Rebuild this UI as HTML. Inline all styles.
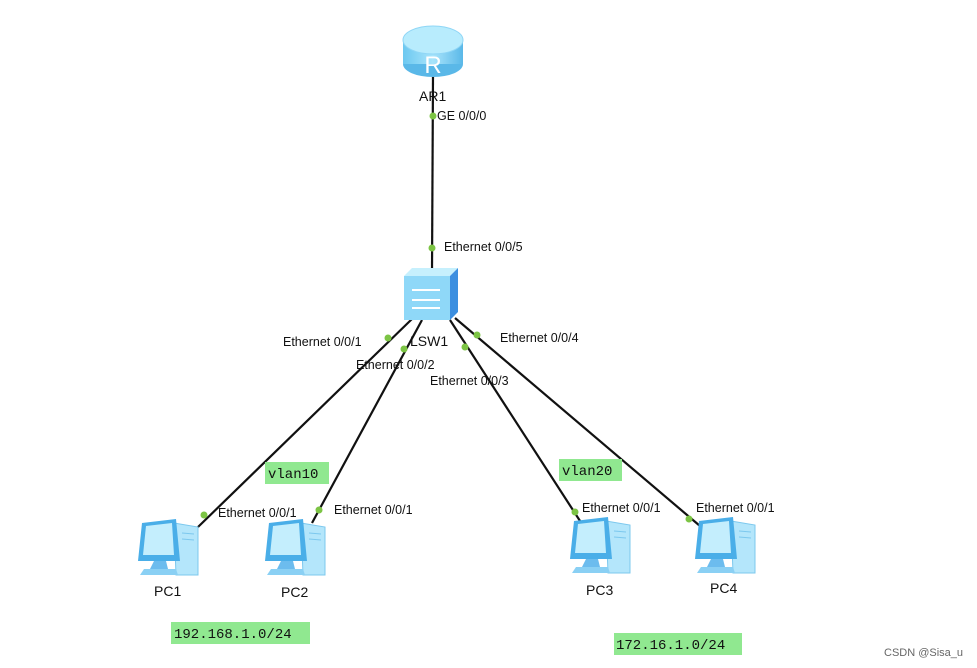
<!DOCTYPE html>
<html><head><meta charset="utf-8"><style>
body{margin:0;background:#fff;width:977px;height:668px;overflow:hidden}
svg{display:block}
text{font-family:"Liberation Sans",sans-serif;font-size:12.5px;fill:#111}
.m{font-family:"Liberation Mono",monospace;font-size:14px}
</style></head><body>
<svg width="977" height="668" viewBox="0 0 977 668">
<defs>
<linearGradient id="rg" x1="0" x2="1"><stop offset="0" stop-color="#6cc8f0"/><stop offset="0.5" stop-color="#a8e4fb"/><stop offset="1" stop-color="#5ab8e8"/></linearGradient>
<g id="pc">
 <path d="M38 6 L62 10 L62 58 L40 58 Z" fill="#b4e6fb" stroke="#7cc8ee"/>
 <line x1="46" y1="16" x2="58" y2="17" stroke="#7cc8ee"/><line x1="46" y1="22" x2="58" y2="23" stroke="#7cc8ee"/>
 <path d="M6 6 L40 2 L44 44 L2 44 Z" fill="#4aaee8"/>
 <path d="M10 9 L36 6 L38 38 L7 38 Z" fill="#c4eefd"/>
 <path d="M18 44 L30 44 L32 52 L14 52 Z" fill="#6cbcee"/>
 <path d="M8 52 L40 52 L42 58 L4 58 Z" fill="#8ad0f4"/>
</g>
</defs>
<g stroke="#111" stroke-width="2.2" fill="none">
<line x1="433" y1="75" x2="432" y2="272"/>
<line x1="413" y1="318" x2="198" y2="527"/>
<line x1="422" y1="320" x2="312" y2="523"/>
<line x1="450" y1="320" x2="582" y2="524"/>
<line x1="455" y1="318" x2="700" y2="526"/>
</g>
<!-- router -->
<ellipse cx="433" cy="64" rx="30" ry="13" fill="#5ab8e8"/>
<rect x="403" y="40" width="60" height="24" fill="url(#rg)"/>
<ellipse cx="433" cy="40" rx="30" ry="14" fill="#b8ecfd" stroke="#8fd6f6"/>
<text x="433" y="73" text-anchor="middle" style="font-size:24px;fill:#fff">R</text>
<!-- switch -->
<path d="M404 276 L412 268 L458 268 L450 276 Z" fill="#c6f0fd"/>
<path d="M450 276 L458 268 L458 312 L450 320 Z" fill="#3c8fe0"/>
<rect x="404" y="276" width="46" height="44" fill="#8fd8f8"/>
<path d="M412 290 h28 M412 300 h28 M412 308 h28" stroke="#fff" stroke-width="2"/>
<use href="#pc" x="136" y="517"/>
<use href="#pc" x="263" y="517"/>
<use href="#pc" x="568" y="515"/>
<use href="#pc" x="693" y="515"/>
<g fill="#7cc444">
<circle cx="433" cy="116" r="3.5"/><circle cx="432" cy="248" r="3.5"/>
<circle cx="388" cy="338" r="3.5"/><circle cx="404" cy="349" r="3.5"/>
<circle cx="465" cy="347" r="3.5"/><circle cx="477" cy="335" r="3.5"/>
<circle cx="204" cy="515" r="3.5"/><circle cx="319" cy="510" r="3.5"/>
<circle cx="575" cy="512" r="3.5"/><circle cx="689" cy="519" r="3.5"/>
</g>
<text x="419" y="101" style="font-size:14px">AR1</text>
<text x="437" y="120">GE 0/0/0</text>
<text x="444" y="251">Ethernet 0/0/5</text>
<text x="410" y="346" style="font-size:14px">LSW1</text>
<text x="283" y="346">Ethernet 0/0/1</text>
<text x="356" y="369">Ethernet 0/0/2</text>
<text x="430" y="385">Ethernet 0/0/3</text>
<text x="500" y="342">Ethernet 0/0/4</text>
<text x="218" y="517">Ethernet 0/0/1</text>
<text x="334" y="514">Ethernet 0/0/1</text>
<text x="582" y="512">Ethernet 0/0/1</text>
<text x="696" y="512">Ethernet 0/0/1</text>
<text x="154" y="596" style="font-size:14px">PC1</text>
<text x="281" y="597" style="font-size:14px">PC2</text>
<text x="586" y="595" style="font-size:14px">PC3</text>
<text x="710" y="593" style="font-size:14px">PC4</text>
<rect x="265" y="462" width="64" height="22" fill="#90e890"/>
<text class="m" x="268" y="478">vlan10</text>
<rect x="559" y="459" width="63" height="22" fill="#90e890"/>
<text class="m" x="562" y="475">vlan20</text>
<rect x="171" y="622" width="139" height="22" fill="#90e890"/>
<text class="m" x="174" y="638">192.168.1.0/24</text>
<rect x="614" y="633" width="128" height="22" fill="#90e890"/>
<text class="m" x="616" y="649">172.16.1.0/24</text>
<text x="884" y="656" style="font-size:11px;fill:#666">CSDN @Sisa_u</text>
</svg>
</body></html>
